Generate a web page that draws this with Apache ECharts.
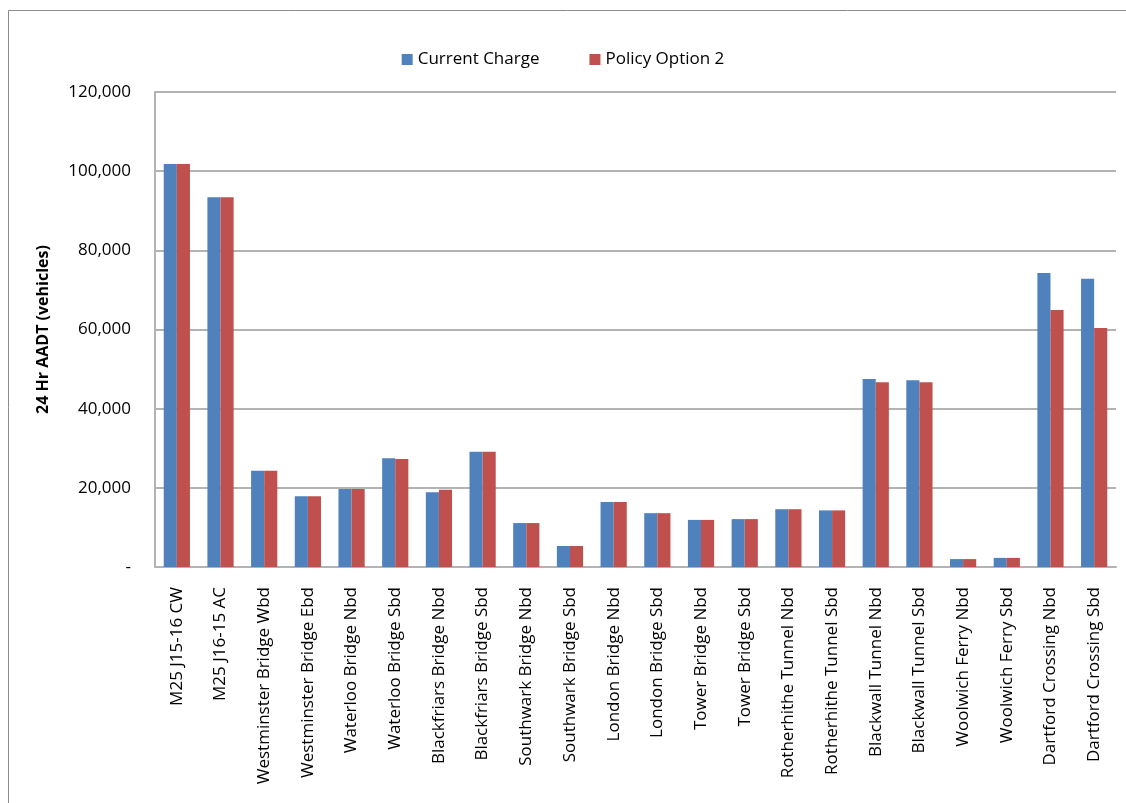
<!DOCTYPE html>
<html>
<head>
<meta charset="utf-8">
<script src="https://cdn.jsdelivr.net/npm/echarts@6/dist/echarts.min.js"></script>
<style>
  html, body { margin: 0; padding: 0; background: #fff; }
  #chart { width: 1126px; height: 803px; }
</style>
</head>
<body>
<div id="chart"></div>
<script>
const categories = [
  'M25 J15-16 CW', 'M25 J16-15 AC', 'Westminster Bridge Wbd', 'Westminster Bridge Ebd',
  'Waterloo Bridge Nbd', 'Waterloo Bridge Sbd', 'Blackfriars Bridge Nbd', 'Blackfriars Bridge Sbd',
  'Southwark Bridge Nbd', 'Southwark Bridge Sbd', 'London Bridge Nbd', 'London Bridge Sbd',
  'Tower Bridge Nbd', 'Tower Bridge Sbd', 'Rotherhithe Tunnel Nbd', 'Rotherhithe Tunnel Sbd',
  'Blackwall Tunnel Nbd', 'Blackwall Tunnel Sbd', 'Woolwich Ferry Nbd', 'Woolwich Ferry Sbd',
  'Dartford Crossing Nbd', 'Dartford Crossing Sbd'
]
const currentCharge = [
  101800, 93400, 24300, 17900, 19700, 27500, 18900, 29100, 11100, 5300, 16400,
  13600, 11900, 12100, 14600, 14300, 47500, 47200, 2000, 2300, 74300, 72800
]
const policyOption2 = [
  101800, 93400, 24300, 17900, 19700, 27300, 19500, 29100, 11100, 5300, 16400,
  13600, 11900, 12100, 14600, 14300, 46700, 46700, 2000, 2300, 64900, 60400
]

const font = "'Open Sans', 'Liberation Sans', sans-serif"
const chart = echarts.init(document.getElementById('chart'), null, { renderer: 'canvas' })

chart.setOption({
  backgroundColor: '#fff',
  animation: false,
  graphic: [{
    type: 'rect',
    shape: { x: 8.5, y: 10.5, width: 1130, height: 800 },
    style: { fill: 'none', stroke: '#8c8c8c', lineWidth: 1 },
    silent: true
  }],
  legend: {
    top: 46,
    left: 'center',
    itemWidth: 11,
    itemHeight: 11,
    itemGap: 50,
    icon: 'rect',
    textStyle: { fontFamily: font, fontSize: 17, color: '#000' },
    data: ['Current Charge', 'Policy Option 2']
  },
  grid: { left: 155, right: 10, top: 92, bottom: 236, containLabel: false },
  xAxis: {
    type: 'category',
    data: categories,
    axisLine: { lineStyle: { color: '#b3b3b3', width: 2 } },
    axisTick: { show: false },
    axisLabel: {
      rotate: 90,
      interval: 0,
      margin: 20,
      fontFamily: font,
      fontSize: 17,
      color: '#000'
    }
  },
  yAxis: {
    type: 'value',
    min: 0,
    max: 120000,
    interval: 20000,
    name: '24 Hr AADT (vehicles)',
    nameLocation: 'middle',
    nameGap: 104,
    nameTextStyle: { fontFamily: font, fontSize: 16, fontWeight: 'bold', color: '#000' },
    axisLine: { show: true, lineStyle: { color: '#b3b3b3', width: 2 } },
    axisTick: { show: false },
    splitLine: { lineStyle: { color: '#b3b3b3', width: 2 } },
    axisLabel: {
      margin: 24,
      fontFamily: font,
      fontSize: 17,
      color: '#000',
      formatter: v => v === 0 ? '-' : v.toLocaleString('en-US')
    }
  },
  series: [
    {
      name: 'Current Charge',
      type: 'bar',
      data: currentCharge,
      itemStyle: { color: '#4f81bd' },
      barGap: '0%',
      barCategoryGap: '40%'
    },
    {
      name: 'Policy Option 2',
      type: 'bar',
      data: policyOption2,
      itemStyle: { color: '#c0504d' }
    }
  ]
})
</script>
</body>
</html>
